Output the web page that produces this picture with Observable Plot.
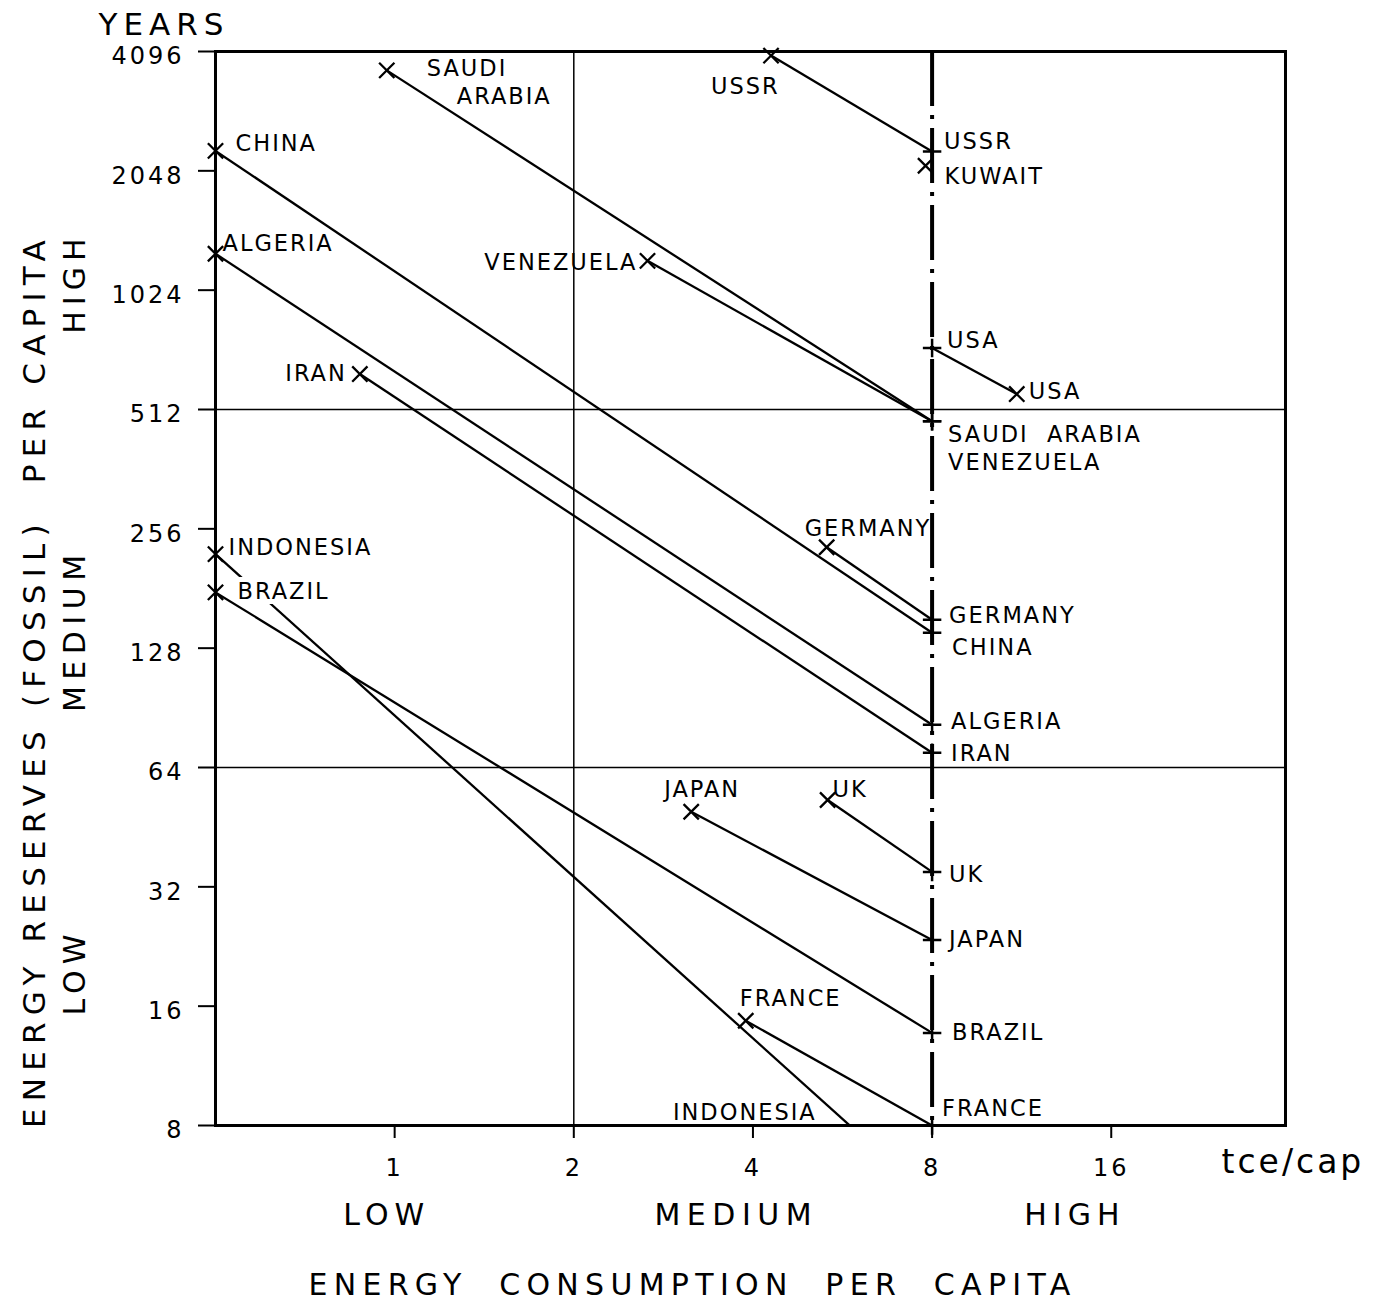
<!DOCTYPE html>
<html><head><meta charset="utf-8">
<script src="https://cdn.jsdelivr.net/npm/d3@7"></script>
<script src="https://cdn.jsdelivr.net/npm/@observablehq/plot@0.6"></script>
<style>html,body{margin:0;padding:0;background:#fff}</style>
</head><body><div id="chart"></div>
<script>
// ---- data ----
const countries        = ["USSR","Saudi Arabia","Venezuela","China","Algeria","Iran","USA","Germany","Indonesia","Brazil","Japan","UK","France","Kuwait"];
const consumptionNow   = [4.29, 0.97, 2.66, 0.5, 0.5, 0.874, 11.1, 5.32, 0.5, 0.5, 3.15, 5.34, 3.89, 7.8];
const reservesNow      = [4000, 3670, 1214, 2300, 1265, 629, 560, 230, 221, 177, 49.5, 53, 14.7, 2110];
const consumptionLater = [8, 8, 8, 8, 8, 8, 8, 8, 8, 8, 8, 8, 8, null];
const reservesLater    = [2290, 478, 478, 140, 82, 69.7, 732, 151, 5.2, 13.7, 23.5, 34.9, 8, null];
const xTicks = [1, 2, 4, 8, 16];
const yTicks = [8, 16, 32, 64, 128, 256, 512, 1024, 2048, 4096];
const xBandNames = ["LOW", "MEDIUM", "HIGH"];
const xBandAt    = [0.97, 3.75, 13.9];
const yBandNames = ["HIGH", "MEDIUM", "LOW"];
const yBandAt    = [1067, 142, 19.5];
const bandBoundsX = [2];
const bandBoundsY = [64, 512];
const targetConsumption = [8];

const rows = countries.map((c, i) => ({country: c, x0: consumptionNow[i], y0: reservesNow[i], x1: consumptionLater[i], y1: reservesLater[i]}));
const links = rows.filter(d => d.x1 != null);
const byName = Object.fromEntries(rows.map(d => [d.country, d]));

// label layout: [country, end, text, anchor, dx, dy]
const placement = [
  ["USSR","now","USSR","start",-60,31],
  ["Saudi Arabia","now","SAUDI","start",40,-2],
  ["Saudi Arabia","now","ARABIA","start",70,26],
  ["Venezuela","now","VENEZUELA","end",-10,2],
  ["China","now","CHINA","start",20,-7],
  ["Algeria","now","ALGERIA","start",7,-10],
  ["Iran","now","IRAN","end",-13,0],
  ["USA","now","USA","start",12,-2],
  ["Germany","now","GERMANY","start",-22,-18],
  ["Indonesia","now","INDONESIA","start",13,-6],
  ["Japan","now","JAPAN","start",-27,-22],
  ["UK","now","UK","start",5,-10],
  ["France","now","FRANCE","start",-6,-22],
  ["Kuwait","now","KUWAIT","start",19,11],
  ["USSR","later","USSR","start",12,-10],
  ["Saudi Arabia","later","SAUDI  ARABIA","start",16,13],
  ["Venezuela","later","VENEZUELA","start",16,41],
  ["China","later","CHINA","start",20,15],
  ["Algeria","later","ALGERIA","start",19,-3],
  ["Iran","later","IRAN","start",19,1],
  ["USA","later","USA","start",15,-7],
  ["Germany","later","GERMANY","start",17,-4],
  ["Brazil","later","BRAZIL","start",20,0],
  ["Japan","later","JAPAN","start",17,0],
  ["UK","later","UK","start",17,3],
  ["France","later","FRANCE","start",10,-17]
];

const labelMarks = placement.map(([c, end, t, anchor, dx, dy]) => {
  const d = byName[c];
  return Plot.text([d], {x: end === "now" ? "x0" : "x1", y: end === "now" ? "y0" : "y1",
    text: () => t, textAnchor: anchor, dx, dy, fontSize: 22.5, fill: "black"});
});

// Indonesia's line leaves the frame at the bottom: find where it crosses y = 8
const ind = byName["Indonesia"];
const tInd = (Math.log(8) - Math.log(ind.y0)) / (Math.log(ind.y1) - Math.log(ind.y0));
const indExit = {x: Math.exp(Math.log(ind.x0) + tInd * (Math.log(ind.x1) - Math.log(ind.x0))), y: 8};

const plot = Plot.plot({
  width: 1375, height: 1307,
  marginLeft: 215, marginRight: 90, marginTop: 51, marginBottom: 182,
  x: {type: "log", base: 2, domain: [0.5, 31.4]},
  y: {type: "log", base: 2, domain: [8, 4096]},
  style: {fontFamily: "'DejaVu Sans', sans-serif", fontSize: "22px", color: "black", background: "white", letterSpacing: "2px"},
  marks: [
    Plot.ruleX(bandBoundsX, {strokeWidth: 1.5}),
    Plot.ruleY(bandBoundsY, {strokeWidth: 1.5}),
    Plot.ruleX(targetConsumption, {strokeWidth: 4, strokeDasharray: "55,9,4,9"}),
    Plot.frame({strokeWidth: 3}),
    Plot.axisY({ticks: yTicks, anchor: "left", tickSize: 17, tickFormat: () => "", label: null, strokeWidth: 2}),
    Plot.text(yTicks, {y: d => d, text: d => String(d), frameAnchor: "left", textAnchor: "end", dx: -31, dy: 5, fontSize: 24, fill: "black"}),
    Plot.axisX({ticks: xTicks, anchor: "bottom", tickSize: 13, tickPadding: 20, tickFormat: d => String(d), fontSize: 24, label: null, strokeWidth: 2}),
    Plot.link([ind], {x1: "x0", y1: "y0", x2: "x1", y2: "y1", strokeWidth: 2.3, clip: true}),
    Plot.text([byName["Brazil"]], {x: "x0", y: "y0", text: () => "BRAZIL", textAnchor: "start", dx: 22, dy: -1, fontSize: 22.5, fill: "black", stroke: "white", strokeWidth: 10}),
    Plot.link(links.filter(d => d.country !== "Indonesia"), {x1: "x0", y1: "y0", x2: "x1", y2: "y1", strokeWidth: 2.3, clip: true}),
    Plot.dot(rows, {x: "x0", y: "y0", symbol: "times", r: 7, stroke: "black", strokeWidth: 2.3}),
    Plot.dot(links.filter(d => d.y1 >= 8), {x: "x1", y: "y1", symbol: "plus", r: 6, stroke: "black", strokeWidth: 2.5}),
    ...labelMarks,
    Plot.text([indExit], {x: "x", y: "y", text: () => "INDONESIA", textAnchor: "end", dx: -33, dy: -13, fontSize: 22.5, fill: "black"}),
    // band names
    Plot.text(xBandNames, {x: (d, i) => xBandAt[i], frameAnchor: "bottom", lineAnchor: "middle", textAnchor: "middle", dy: 90, fontSize: 30, fill: "black"}),
    Plot.text(yBandNames, {y: (d, i) => yBandAt[i], frameAnchor: "left", lineAnchor: "middle", textAnchor: "middle", dx: -140, rotate: -90, fontSize: 30, fill: "black"}),
    // titles
    Plot.text(["ENERGY  CONSUMPTION  PER  CAPITA"], {frameAnchor: "bottom", lineAnchor: "middle", textAnchor: "middle", dx: -58, dy: 160, fontSize: 30, fill: "black"}),
    Plot.text(["ENERGY RESERVES (FOSSIL)  PER CAPITA"], {frameAnchor: "left", lineAnchor: "middle", textAnchor: "middle", dx: -180, dy: 92, rotate: -90, fontSize: 31, fill: "black"}),
    Plot.text(["YEARS"], {frameAnchor: "top-left", lineAnchor: "middle", dx: -117, dy: -26, textAnchor: "start", fontSize: 31, fill: "black"}),
    Plot.text(["tce/cap"], {frameAnchor: "bottom-right", lineAnchor: "middle", dx: -64, dy: 37, textAnchor: "start", fontSize: 33, fill: "black"})
  ]
});

// wider letter spacing for the big headings and tick numbers
const spacing = {"ENERGY  CONSUMPTION  PER  CAPITA": 6.3, "ENERGY RESERVES (FOSSIL)  PER CAPITA": 7.2, "YEARS": 6, "tce/cap": 3,
  "LOW": 6, "MEDIUM": 6.5, "HIGH": 6};
d3.select(plot).selectAll("text").each(function() {
  const t = this.textContent;
  if (spacing[t] != null) this.style.letterSpacing = spacing[t] + "px";
  else if (/^\d+$/.test(t)) this.style.letterSpacing = "3px";
});
document.getElementById("chart").append(plot);
</script>
</body></html>
